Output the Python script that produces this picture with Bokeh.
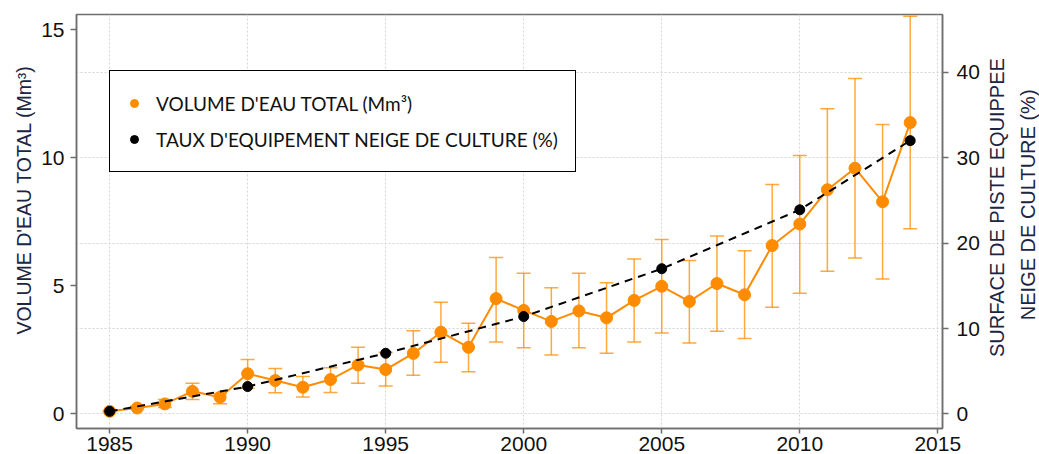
from bokeh.plotting import figure
from bokeh.layouts import row
from bokeh.models import (ColumnDataSource, Range1d, LinearAxis, FixedTicker, Whisker,
                          TeeHead, Legend, LegendItem, Grid)
from bokeh.embed import file_html
from bokeh.resources import INLINE

years = [1985, 1986, 1987, 1988, 1989, 1990, 1991, 1992, 1993, 1994,
         1995, 1996, 1997, 1998, 1999, 2000, 2001, 2002, 2003, 2004,
         2005, 2006, 2007, 2008, 2009, 2010, 2011, 2012, 2013, 2014]
volume = [0.10, 0.23, 0.39, 0.88, 0.65, 1.57, 1.30, 1.04, 1.34, 1.91,
          1.73, 2.36, 3.19, 2.60, 4.50, 4.04, 3.61, 4.02, 3.75, 4.43,
          4.98, 4.39, 5.09, 4.65, 6.57, 7.41, 8.75, 9.59, 8.28, 11.37]
vol_upper = [0.12, 0.30, 0.56, 1.20, 0.80, 2.12, 1.77, 1.46, 1.80, 2.60,
             2.40, 3.25, 4.36, 3.54, 6.10, 5.49, 4.92, 5.49, 5.12, 6.05,
             6.81, 5.99, 6.94, 6.37, 8.95, 10.09, 11.91, 13.09, 11.30, 15.52]
vol_lower = [0.08, 0.18, 0.25, 0.56, 0.40, 1.00, 0.83, 0.66, 0.84, 1.20,
             1.09, 1.51, 2.02, 1.65, 2.81, 2.58, 2.30, 2.58, 2.37, 2.81,
             3.16, 2.77, 3.23, 2.94, 4.16, 4.71, 5.57, 6.09, 5.27, 7.23]
equip_years = [1985, 1990, 1995, 2000, 2005, 2010, 2014]
equip_rate = [0.3, 3.2, 7.1, 11.4, 17.0, 23.9, 32.0]

x_ticks = [1985, 1990, 1995, 2000, 2005, 2010, 2015]
left_ticks = [0, 5, 10, 15]
right_ticks = [0, 10, 20, 30, 40]

left_title = "VOLUME D'EAU TOTAL (Mm³)"
right_title_1 = "SURFACE DE PISTE EQUIPPEE"
right_title_2 = "NEIGE DE CULTURE (%)"

ORANGE = "#FF8C00"
FRAME = "#6e6e6e"
LABEL_COLOR = "#1c2541"
NBSP = "\u00a0"   # leading pad: nudges the centred vertical titles upwards

H = 454
x0, x1 = 1983.8, 2015.17
y0, y1 = -0.57, 15.59

# ---------- main chart ----------
p = figure(width=944, height=H, output_backend="svg", toolbar_location=None,
           x_range=Range1d(x0, x1), y_range=Range1d(y0, y1),
           min_border_left=36, min_border_right=39, min_border_top=14,
           min_border_bottom=26)
p.extra_y_ranges = {"right": Range1d(y0 * 3, y1 * 3)}

p.background_fill_color = "white"
p.border_fill_color = "white"
p.outline_line_color = FRAME
p.outline_line_width = 1.5

p.xgrid.ticker = FixedTicker(ticks=x_ticks)
p.xgrid.grid_line_color = "#d4d4d4"
p.xgrid.grid_line_dash = "2 2"
p.ygrid.visible = False
rgrid = Grid(dimension=1, ticker=FixedTicker(ticks=right_ticks), y_range_name="right",
             grid_line_color="#d4d4d4", grid_line_dash="2 2")
p.add_layout(rgrid)

def style_axis(ax):
    ax.axis_line_color = FRAME
    ax.axis_line_width = 1.5
    ax.major_tick_line_color = FRAME
    ax.major_tick_line_width = 1.5
    ax.major_tick_out = 6
    ax.major_tick_in = 0
    ax.minor_tick_line_color = None
    ax.major_label_text_font = "Liberation Sans"
    ax.major_label_text_font_size = "21px"
    ax.major_label_text_color = "#111111"

p.xaxis.ticker = FixedTicker(ticks=x_ticks)
style_axis(p.xaxis[0])
p.xaxis.major_tick_out = 5
p.xaxis.major_label_standoff = 3

p.yaxis.ticker = FixedTicker(ticks=left_ticks)
style_axis(p.yaxis[0])
p.yaxis.major_label_standoff = 6

raxis = LinearAxis(y_range_name="right", ticker=FixedTicker(ticks=right_ticks))
style_axis(raxis)
raxis.major_label_standoff = 8
p.add_layout(raxis, "right")

src = ColumnDataSource(dict(x=years, y=volume, upper=vol_upper, lower=vol_lower))
wh = Whisker(source=src, base="x", upper="upper", lower="lower",
             line_color=ORANGE, line_alpha=0.75, line_width=1.5,
             upper_head=TeeHead(size=14, line_color=ORANGE, line_alpha=0.75, line_width=1.5),
             lower_head=TeeHead(size=14, line_color=ORANGE, line_alpha=0.75, line_width=1.5))
wh.level = "underlay"
p.add_layout(wh)

p.line("x", "y", source=src, line_color=ORANGE, line_width=2)
r_vol = p.scatter("x", "y", source=src, size=12, fill_color=ORANGE, line_color=ORANGE)

esrc = ColumnDataSource(dict(x=equip_years, y=equip_rate))
p.line("x", "y", source=esrc, y_range_name="right", line_color="black",
       line_width=2, line_dash="8 6")
r_eq = p.scatter("x", "y", source=esrc, y_range_name="right", size=10,
                 fill_color="black", line_color="black")

legend = Legend(items=[LegendItem(label="VOLUME D'EAU TOTAL (Mm³)", renderers=[r_vol]),
                       LegendItem(label="TAUX D'EQUIPEMENT NEIGE DE CULTURE (%)", renderers=[r_eq])],
                location=(33, 256), margin=0, padding=14, spacing=0,
                glyph_width=20, glyph_height=36, label_height=36, label_standoff=12,
                label_width=405, label_text_font="Lato", label_text_font_size="19px",
                label_text_color="#111111",
                border_line_color="black", border_line_width=1, border_line_alpha=1,
                background_fill_color="white", background_fill_alpha=1)
p.add_layout(legend, "center")

# ---------- side strips carrying the rotated axis titles ----------
def title_strip(text, width, border_left, size, line_height):
    s = figure(width=width, height=H, output_backend="svg", toolbar_location=None,
               x_range=Range1d(0, 1), y_range=Range1d(0, 1),
               x_axis_type=None, y_axis_type=None,
               min_border_left=border_left, min_border_right=0,
               min_border_top=14, min_border_bottom=26)
    s.outline_line_color = None
    s.background_fill_color = "white"
    s.border_fill_color = "white"
    ax = LinearAxis(ticker=FixedTicker(ticks=[]))
    ax.axis_line_color = None
    ax.major_tick_line_color = None
    ax.minor_tick_line_color = None
    ax.major_tick_out = 0
    ax.major_label_standoff = 0
    ax.axis_label = text
    ax.axis_label_text_font = "Liberation Sans"
    ax.axis_label_text_font_style = "normal"
    ax.axis_label_text_font_size = size
    ax.axis_label_text_color = LABEL_COLOR
    ax.axis_label_text_line_height = line_height
    ax.axis_label_standoff = 0
    s.add_layout(ax, "left")
    return s

left_strip = title_strip(NBSP * 8 + left_title, 38, 34, "19.5px", 1.2)
right_strip = title_strip(NBSP * 5 + right_title_1 + "\n" + NBSP * 6 + right_title_2,
                          57, 54, "20px", 1.4)

layout = row(left_strip, p, right_strip)
open("out.html", "w").write(file_html(layout, INLINE))
